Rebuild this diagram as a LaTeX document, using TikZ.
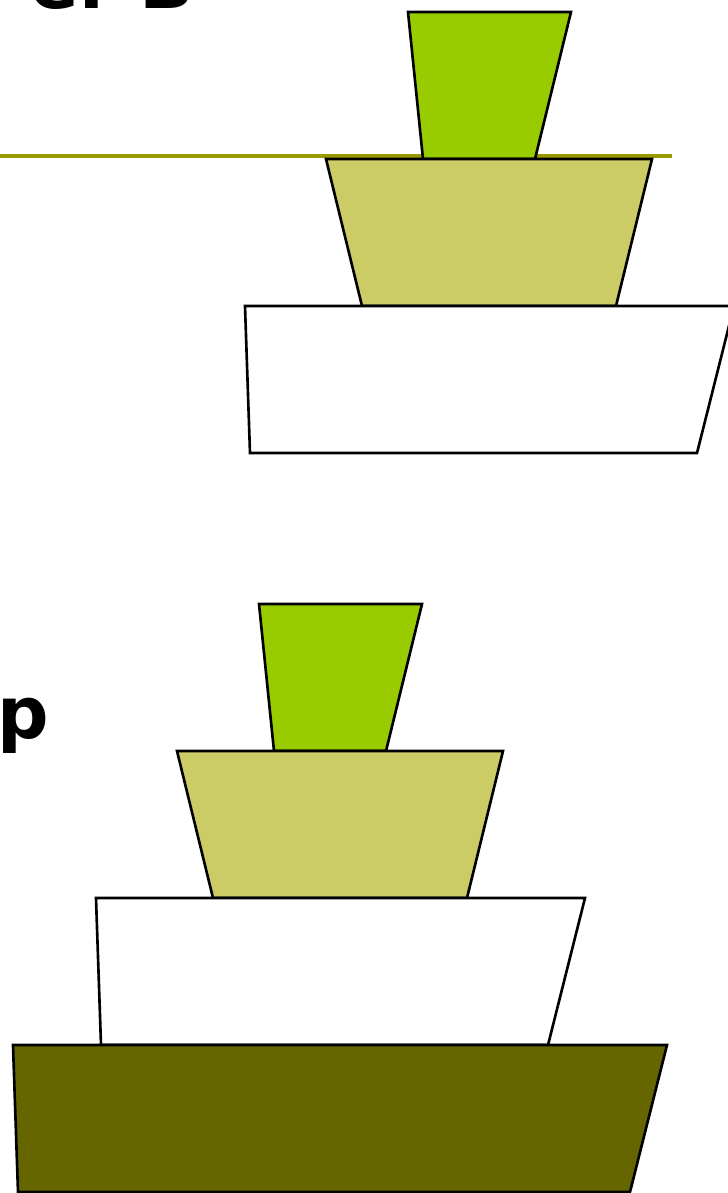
\documentclass[tikz,border=0pt]{standalone}
\usepackage{fontspec}
\setmainfont{DejaVu Sans}
\definecolor{leafgreen}{HTML}{99CC00}
\definecolor{khaki}{HTML}{CCCC66}
\definecolor{darkolive}{HTML}{666600}
\definecolor{ruleolive}{HTML}{999900}

\begin{document}
\begin{tikzpicture}[
    x=0.02cm, y=-0.02cm,
    title/.style={inner sep=0pt, font=\fontsize{41}{49}\selectfont\bfseries},
    layer/.style={draw=black, line width=1.5pt, line join=miter},
    top/.style={layer, fill=leafgreen},
    middle/.style={layer, fill=khaki},
    plain/.style={layer, fill=white},
    base/.style={layer, fill=darkolive},
    rule/.style={draw=ruleolive, line width=1.9pt}
]
    \useasboundingbox (0,0) rectangle (727,1193);

    % headings, cut by the page edge
    \node[title, anchor=base east] (heading) at (195,9) {er B};
    \node[title, anchor=base east] (subhead) at (49,738) {op};

    \draw[rule] (0,156) -- (672,156);

    % upper stack
    \draw[top] (408,12) -- (571,12) -- (535,159) -- (423,159) -- cycle;
    \draw[middle] (326,159) -- (652,159) -- (616,306) -- (362,306) -- cycle;
    \draw[plain] (245,306) -- (734,306) -- (697,453) -- (250,453) -- cycle;

    % lower stack
    \draw[top] (259,604) -- (422,604) -- (386,751) -- (274,751) -- cycle;
    \draw[middle] (177,751) -- (503,751) -- (467,898) -- (213,898) -- cycle;
    \draw[plain] (96,898) -- (585,898) -- (548,1045) -- (101,1045) -- cycle;
    \draw[base] (13,1045) -- (667,1045) -- (630,1192) -- (18,1192) -- cycle;
\end{tikzpicture}
\end{document}
